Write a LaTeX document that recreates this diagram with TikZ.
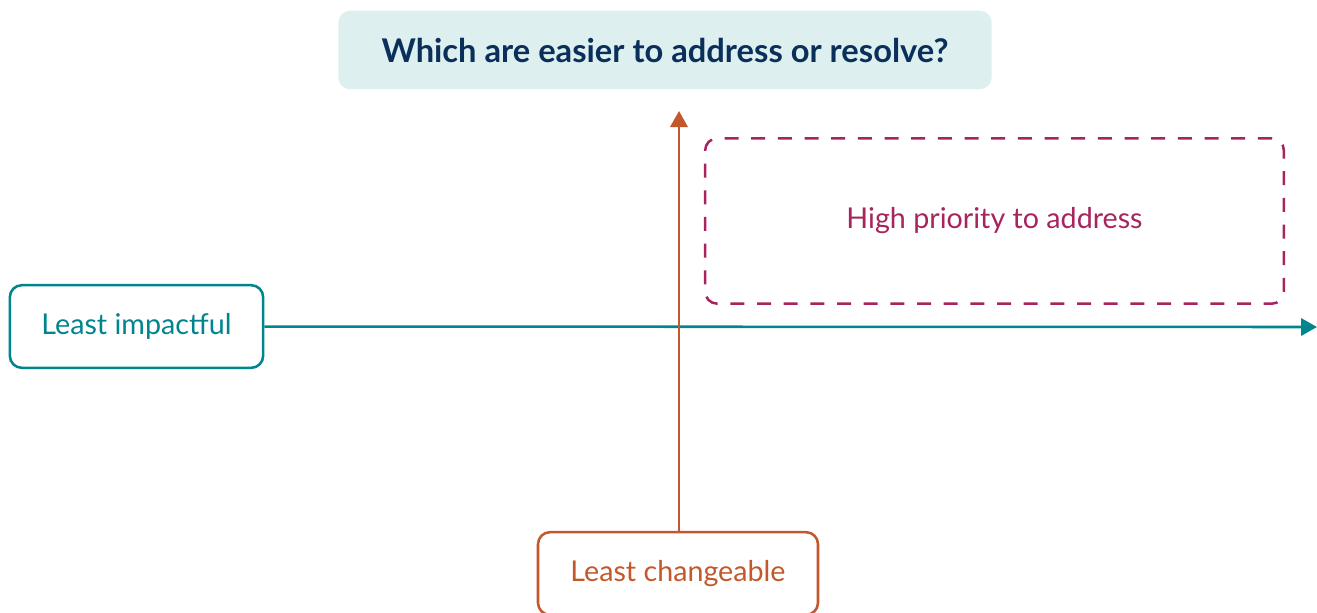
\documentclass[tikz,border=0pt]{standalone}
\usepackage{fontspec}
\setmainfont{Lato}
\usepackage{tikz}
\usetikzlibrary{arrows.meta}
\definecolor{navy}{HTML}{0B2F5B}
\definecolor{paleteal}{HTML}{DDF0EF}
\definecolor{teal}{HTML}{00858F}
\definecolor{rust}{HTML}{C2582B}
\definecolor{plum}{HTML}{A8245F}
\tikzset{axisbox/.style={draw, rounded corners=9pt, line width=1.9pt,
  minimum height=62pt, inner sep=0pt, font=\fontsize{21.5}{24}\selectfont}}

\begin{document}
\begin{tikzpicture}[x=0.75pt, y=-0.75pt, >={Triangle[length=12pt, width=13pt]},
  line width=1.9pt]
  \useasboundingbox (0,0) rectangle (1317,612);
  \node[fill=paleteal, rounded corners=9pt, minimum width=490pt,
    minimum height=59pt, text=navy, font=\fontsize{24.5}{28}\selectfont\bfseries]
    (title) at (665, 50) {Which are easier to address or resolve?};
  \node[axisbox, draw=teal, text=teal, minimum width=190pt]
    (impact) at (136.5, 326.5) {Least impactful};
  \node[axisbox, draw=rust, text=rust, minimum width=210pt]
    (change) at (678, 573.5) {Least changeable};
  \node[draw=plum, text=plum, dash pattern=on 10.5pt off 9.5pt,
    rounded corners=9pt, minimum width=434pt, minimum height=124pt,
    font=\fontsize{21.5}{24}\selectfont] (priority) at (994.5, 221) {High priority to address};
  \coordinate (xend) at (1317, 327);
  \coordinate (yend) at (679, 111);
  \draw[->, teal] (impact) -- (xend);
  \draw[->, rust] (change.north -| yend) -- (yend);
\end{tikzpicture}
\end{document}
